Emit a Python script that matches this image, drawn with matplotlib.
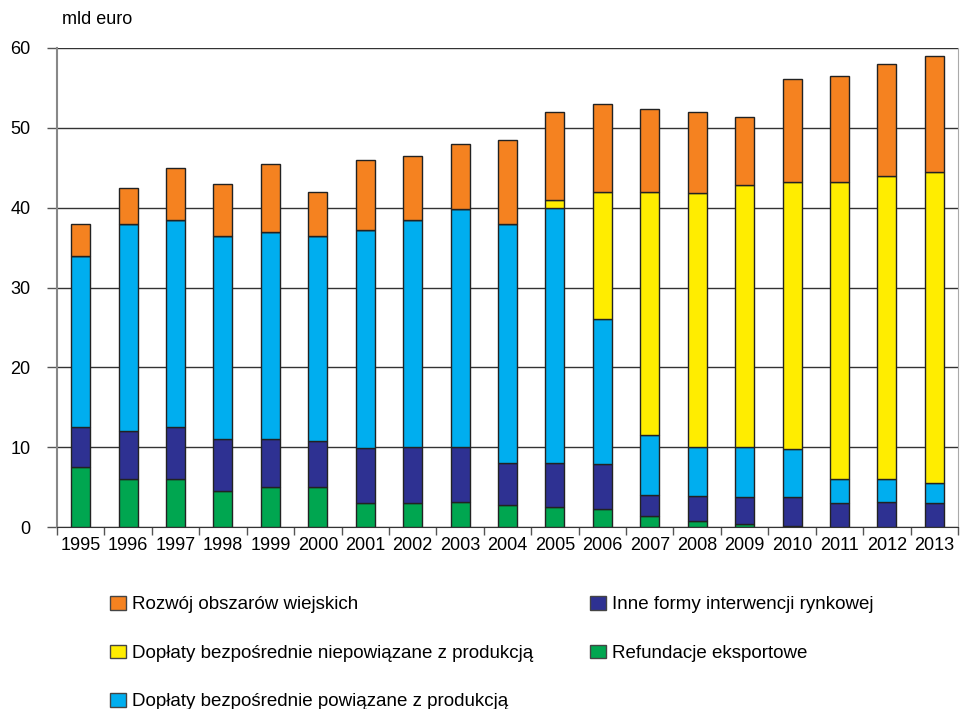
import matplotlib
matplotlib.use("Agg")
import matplotlib.pyplot as plt
import numpy as np

plt.rcParams['font.family'] = ['Liberation Sans', 'DejaVu Sans']

years = [str(y) for y in range(1995, 2014)]

# stacked components, mld euro (bottom to top)
refundacje = [7.5, 6.0, 6.0, 4.5, 5.0, 5.0, 3.0, 3.0, 3.1, 2.7, 2.5, 2.25, 1.4, 0.8, 0.4, 0.1, 0.0, 0.0, 0.0]
inne = [5.0, 6.0, 6.5, 6.5, 6.0, 5.8, 6.9, 7.0, 6.9, 5.3, 5.5, 5.6, 2.6, 3.05, 3.35, 3.65, 3.0, 3.1, 3.0]
powiazane = [21.5, 26.0, 26.0, 25.5, 26.0, 25.7, 27.3, 28.5, 29.8, 30.0, 32.0, 18.15, 7.5, 6.15, 6.25, 6.05, 3.0, 2.9, 2.5]
niepowiazane = [0.0, 0.0, 0.0, 0.0, 0.0, 0.0, 0.0, 0.0, 0.0, 0.0, 1.0, 16.0, 30.4, 31.8, 32.9, 33.4, 37.2, 38.0, 39.0]
rozwoj = [4.0, 4.5, 6.5, 6.5, 8.5, 5.5, 8.8, 8.0, 8.2, 10.5, 11.0, 11.0, 10.5, 10.2, 8.5, 12.9, 13.3, 14.0, 14.5]

series = [
    (refundacje, '#00A650', 'Refundacje eksportowe'),
    (inne, '#2E3192', 'Inne formy interwencji rynkowej'),
    (powiazane, '#00AEEF', 'Dopłaty bezpośrednie powiązane z produkcją'),
    (niepowiazane, '#FFED00', 'Dopłaty bezpośrednie niepowiązane z produkcją'),
    (rozwoj, '#F58220', 'Rozwój obszarów wiejskich'),
]

fig = plt.figure(figsize=(9.6, 7.09), dpi=100)
ax = fig.add_axes([57/960, 1 - 527/709, (958 - 57)/960, (527 - 48)/709])

x = np.arange(len(years))
bottom = np.zeros(len(years))
handles = {}
for vals, color, label in series:
    v = np.array(vals)
    h = ax.bar(x, v, width=0.4, bottom=bottom, color=color,
               edgecolor='#222222', linewidth=1.0, label=label, zorder=3)
    handles[label] = h
    bottom += v

ax.set_xlim(-0.5, len(years) - 0.5)
ax.set_ylim(0, 60)
ax.set_yticks(range(0, 61, 10))
ax.yaxis.grid(True, color='#333333', linewidth=1.0, zorder=0)
ax.set_axisbelow(True)

ax.set_xticks(x)
ax.set_xticklabels(years, fontsize=13)
ax.set_xticks(np.arange(-0.5, len(years), 1), minor=True)
ax.tick_params(axis='x', which='major', length=0, pad=7)
ax.tick_params(axis='x', which='minor', length=6, width=1, color='#555555', direction='out')
ax.tick_params(axis='y', length=7, width=1, color='#555555', labelsize=13, pad=12)

ax.spines['top'].set_visible(False)
ax.spines['left'].set_color('#888888')
ax.spines['left'].set_linewidth(1.5)
ax.spines['right'].set_color('#aaaaaa')
ax.spines['bottom'].set_color('#333333')

fig.text(62/960, 1 - 20/709, 'mld euro', fontsize=13, va='center', ha='left')

order = ['Rozwój obszarów wiejskich',
         'Dopłaty bezpośrednie niepowiązane z produkcją',
         'Dopłaty bezpośrednie powiązane z produkcją',
         'Inne formy interwencji rynkowej',
         'Refundacje eksportowe']
leg = fig.legend([handles[k] for k in order], order, ncol=2,
                 loc='upper left', bbox_to_anchor=(110/960, 1 - 596/709),
                 frameon=False, fontsize=13.5, handlelength=0.85, handleheight=0.75,
                 handletextpad=0.35, labelspacing=1.66, columnspacing=3.0,
                 borderaxespad=0, borderpad=0)
for p in leg.get_patches():
    p.set_edgecolor('#444444')

fig.savefig('out.png', dpi=100)
